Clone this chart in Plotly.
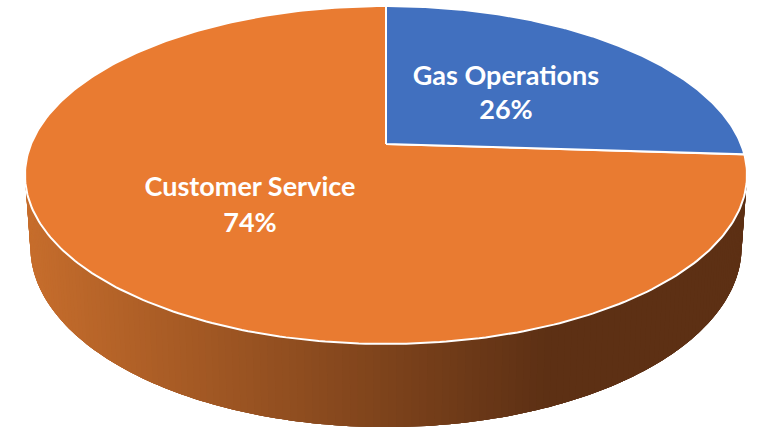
import numpy as np
import plotly.graph_objects as go

# data
labels = ["Gas Operations", "Customer Service"]
values = [26, 74]
colors = ["#4170BF", "#E97B31"]

# projection of the tilted disc onto the page, in pixels
CX = 386
APEX_Y = 144
PERSP = 0.1834
TOP_B = 136.9
RX = 354.9
BOTTOM_Y0 = 213.9
BOTTOM_SCALE = 0.985

# where the two text lines of each label sit
label_x = [506, 250]
name_y = [78, 189]
pct_y = [112, 225]


def top_face(theta):
    u, v = np.cos(theta), np.sin(theta)
    d = 1 + PERSP * u
    return CX + RX * v / d, (APEX_Y - TOP_B * u) / d


def bottom_face(theta):
    u, v = np.cos(theta), np.sin(theta)
    d = 1 + PERSP * u
    return CX + BOTTOM_SCALE * RX * v / d, (BOTTOM_Y0 - BOTTOM_SCALE * TOP_B * u) / d


def wall_color(x):
    # horizontal shading of the wall, flat once it gets dark
    t = min(max((x - 28) / (550 - 28), 0), 1)
    left = np.array([198, 109, 44])
    right = np.array([93, 48, 20])
    r, g, b = left + (right - left) * t
    return f"rgb({r:.0f},{g:.0f},{b:.0f})"


fractions = np.cumsum([0] + values) / sum(values)
starts = fractions[:-1] * 2 * np.pi
ends = fractions[1:] * 2 * np.pi

fig = go.Figure()

# wall of the orange slice, right to left. Each piece runs on under the next
# few so no seams show between them
steps = np.linspace(starts[1], ends[1], 261)
steps = steps[(steps > np.pi * 0.45) & (steps < np.pi * 1.55)]
for k in range(len(steps) - 1):
    th = steps[k:k + 5]
    tx, ty = top_face(th)
    bx, by = bottom_face(th[::-1])
    col = wall_color(top_face(steps[k])[0])
    fig.add_trace(go.Scatter(
        x=list(tx) + list(bx), y=list(ty) + list(by),
        mode="none", fill="toself", fillcolor=col, hoverinfo="skip",
    ))

# top face, orange first so the blue border stays on top
for i in [1, 0]:
    th = np.linspace(starts[i], ends[i], 300)
    ex, ey = top_face(th)
    fig.add_trace(go.Scatter(
        x=[CX] + list(ex) + [CX], y=[APEX_Y] + list(ey) + [APEX_Y],
        mode="lines", fill="toself", fillcolor=colors[i],
        line=dict(color="white", width=2), hoverinfo="skip",
    ))

# labels
fig.add_trace(go.Scatter(
    x=label_x, y=name_y, mode="text", text=labels,
    textfont=dict(family="Lato", size=27, color="white", weight="bold"),
    hoverinfo="skip",
))
fig.add_trace(go.Scatter(
    x=label_x, y=pct_y, mode="text", text=[f"{v}%" for v in values],
    textfont=dict(family="Lato", size=27, color="white", weight="bold"),
    hoverinfo="skip",
))

fig.update_layout(
    width=764, height=428,
    margin=dict(l=0, r=0, t=0, b=0),
    paper_bgcolor="white", plot_bgcolor="white",
    showlegend=False,
    xaxis=dict(range=[0, 764], visible=False, fixedrange=True),
    yaxis=dict(range=[428, 0], visible=False, fixedrange=True),
)
fig.write_html("out.html", config=dict(displayModeBar=False),
               post_script="document.body.style.margin = '0';")
